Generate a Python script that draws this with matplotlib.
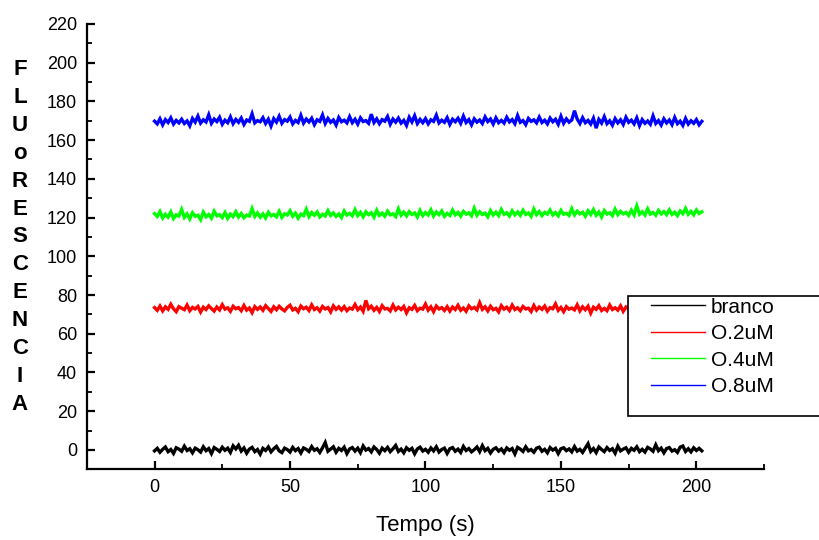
import numpy as np
import matplotlib
matplotlib.use("Agg")
import matplotlib.pyplot as plt
from matplotlib.patches import Rectangle
from matplotlib.ticker import MultipleLocator

plt.rcParams['font.family'] = ['Liberation Sans', 'DejaVu Sans']

labels = ["branco", "O.2uM", "O.4uM", "O.8uM"]
colors = ["#000000", "#FF0000", "#00FF00", "#0000FF"]

black = [
    -0.5, 0.8, -1.2, 0.3, 1.5, -0.9, 0.2, -1.8, 1.1, 0.4,
    -0.7, 1.9, -0.3, 0.6, -1.5, 0.9, 0.1, -1.1, 1.6, -0.4,
    0.7, -1.9, 1.2, 0.3, -0.8, 1.4, -0.2, 0.9, -1.3, 2.1,
    0.5, 2.4, -0.6, 1.0, -1.7, 0.4, 1.3, -0.9, 0.2, -2.2,
    0.8, -0.3, 1.5, -1.0, 0.6, 1.8, -0.5, -1.4, 0.9, 0.2,
    -1.1, 1.3, -0.4, 0.7, -1.6, 1.0, 0.3, -0.8, 1.7, -0.2,
    0.6, -1.3, 1.1, 3.8, -0.7, 0.4, 1.6, -1.2, 0.8, -0.3,
    1.4, -1.9, 0.5, 1.2, -0.6, 0.9, -1.4, 2.0, -0.1, 0.7,
    -1.0, 1.5, 0.2, -1.7, 0.9, -0.4, 1.3, -0.9, 0.6, 2.3,
    -0.8, 0.4, -1.5, 1.1, -0.2, 0.8, -2.0, 0.5, 1.4, -0.6,
    0.3, -1.2, 1.0, -0.5, 1.6, -1.1, 0.2, 0.9, -1.8, 0.6,
    1.2, -0.7, 0.4, -1.3, 1.8, -0.3, 0.7, -1.0, 0.1, 1.5,
    -0.9, 2.2, -0.4, 0.8, -1.6, 0.3, 1.1, -0.6, 0.5, -1.4,
    1.0, -0.2, 0.7, -2.1, 1.3, 0.4, -0.8, 1.6, -0.5, 0.2,
    -1.2, 0.9, 1.4, -0.7, 0.3, -1.5, 1.2, -0.1, 0.8, -1.9,
    0.6, 1.1, -0.4, 0.5, -1.0, 1.7, -0.6, 0.3, -1.3, 1.0,
    3.2, -0.8, 0.7, -1.4, 1.5, 0.2, -0.9, 1.2, -0.3, 0.6,
    -1.7, 1.9, -0.5, 0.4, 1.1, -1.2, 0.8, -0.2, 1.6, -0.9,
    0.3, -1.1, 1.3, 0.5, -0.7, 2.6, -0.4, 0.9, -1.5, 0.7,
    1.2, -0.6, 0.1, -1.3, 1.4, 2.0, -0.8, 0.6, -1.0, 1.1,
    -0.3, 0.8, -0.5]

red = [
    73.5, 72.1, 74.3, 71.8, 73.9, 72.6, 75.2, 72.9, 71.4, 74.0,
    73.2, 72.4, 74.8, 71.9, 73.6, 72.8, 74.1, 71.2, 73.7, 72.5,
    74.4, 73.0, 71.7, 73.8, 72.3, 75.0, 72.7, 73.4, 71.6, 74.2,
    72.9, 73.5, 71.9, 74.6, 72.2, 73.3, 70.9, 74.0, 72.6, 73.8,
    72.1, 74.5, 73.0, 71.5, 73.9, 72.4, 74.2, 72.8, 71.8, 73.6,
    74.7, 72.3, 73.1, 71.4, 74.3, 72.9, 73.7, 72.0, 74.9, 72.5,
    73.4, 71.7, 74.1, 72.8, 73.5, 71.3, 74.4, 72.6, 73.9, 72.2,
    74.0, 71.9, 73.3, 72.7, 75.1, 72.4, 73.8, 71.6, 77.2, 72.9,
    74.2, 72.1, 73.6, 71.5, 74.5, 72.8, 73.1, 71.8, 74.8, 72.3,
    73.7, 72.5, 74.1, 70.8, 73.4, 72.6, 74.6, 71.9, 73.2, 72.7,
    75.3, 72.2, 73.9, 71.4, 74.3, 72.8, 73.5, 72.0, 74.0, 71.7,
    73.8, 72.5, 74.7, 72.1, 73.3, 71.6, 74.4, 72.9, 73.6, 72.3,
    76.0, 72.6, 73.9, 71.8, 74.2, 72.4, 73.1, 71.3, 74.5, 72.7,
    73.7, 72.0, 74.8, 72.5, 73.4, 71.9, 74.1, 72.8, 73.2, 71.5,
    74.6, 72.2, 73.8, 72.6, 74.3, 71.7, 73.5, 72.9, 75.4, 72.1,
    73.6, 71.4, 74.0, 72.7, 73.3, 72.3, 74.9, 71.8, 73.9, 72.4,
    74.2, 70.7, 73.7, 72.6, 74.5, 72.0, 73.1, 71.9, 74.8, 72.5,
    73.4, 72.2, 74.4, 71.6, 73.8, 72.8, 74.1, 72.3, 73.5, 71.7,
    74.7, 72.4, 73.2, 72.9, 75.0, 71.9, 73.6, 72.1, 74.3, 72.6,
    73.9, 71.5, 74.0, 72.7, 73.3, 72.2, 74.6, 71.8, 73.7, 72.5,
    74.2, 72.0, 73.4]

green = [
    122.0, 120.6, 123.1, 119.8, 121.7, 120.2, 122.9, 119.5, 121.4, 120.8,
    124.2, 120.1, 121.9, 119.3, 122.5, 120.7, 121.2, 118.9, 122.8, 120.4,
    121.6, 119.7, 123.3, 120.9, 121.5, 120.0, 122.6, 119.6, 121.8, 120.5,
    123.0, 120.3, 122.1, 119.9, 121.3, 120.8, 124.6, 120.6, 122.4, 120.2,
    121.9, 119.8, 122.7, 120.9, 121.6, 120.4, 123.2, 120.1, 122.0, 121.3,
    123.5, 120.7, 122.3, 119.7, 121.8, 121.0, 124.3, 120.5, 122.6, 121.2,
    122.9, 120.3, 121.7, 120.8, 123.6, 121.1, 122.4, 120.6, 121.9, 120.0,
    123.4, 121.3, 122.2, 120.9, 124.1, 121.0, 122.7, 120.4, 123.0, 121.5,
    122.5, 120.2, 123.8, 121.1, 122.3, 120.7, 123.3, 121.4, 122.0, 120.5,
    124.5, 121.2, 122.8, 120.9, 123.1, 121.6, 122.4, 120.3, 123.7, 121.0,
    122.6, 121.3, 124.0, 120.8, 122.9, 121.5, 123.4, 120.6, 122.2, 121.1,
    123.9, 121.4, 122.7, 120.7, 123.2, 121.8, 122.5, 120.9, 124.8, 121.2,
    123.0, 121.6, 122.3, 120.4, 123.6, 121.3, 122.8, 121.0, 124.2, 121.7,
    122.5, 120.8, 123.5, 121.4, 122.9, 121.1, 123.8, 121.6, 122.4, 120.6,
    124.4, 121.5, 123.1, 121.0, 122.7, 121.8, 123.9, 121.3, 122.6, 120.9,
    123.7, 121.7, 122.2, 121.1, 124.6, 121.4, 123.3, 121.9, 122.8, 120.7,
    123.5, 121.6, 124.1, 121.2, 122.9, 120.3, 123.6, 121.8, 122.5, 121.0,
    124.3, 121.5, 123.2, 121.9, 122.7, 121.1, 123.8, 121.4, 126.0, 121.7,
    123.0, 121.3, 124.5, 121.8, 122.6, 121.2, 123.7, 121.9, 123.1, 121.5,
    124.0, 121.6, 122.8, 121.0, 123.4, 122.0, 124.7, 121.7, 123.2, 121.4,
    123.9, 122.1, 123.0]

blue = [
    169.8, 168.4, 171.0, 167.9, 170.6, 169.1, 171.5, 168.3, 170.2, 168.9,
    170.8, 168.6, 169.9, 167.4, 171.2, 169.3, 172.4, 168.8, 170.5, 169.4,
    173.1, 168.7, 170.9, 169.6, 171.8, 168.2, 170.3, 169.0, 172.0, 168.5,
    170.7, 169.2, 171.4, 168.1, 170.4, 169.7, 173.6, 168.9, 170.1, 169.5,
    171.6, 168.6, 170.8, 167.3, 171.1, 169.3, 172.3, 168.7, 170.6, 169.8,
    171.9, 168.4, 170.2, 169.1, 172.8, 168.8, 170.9, 169.4, 171.3, 168.0,
    170.5, 169.7, 173.0, 168.6, 171.2, 169.2, 170.4, 167.8, 171.7, 169.5,
    170.3, 168.9, 172.1, 169.0, 170.8, 168.3, 171.5, 169.6, 170.1, 168.7,
    173.4, 169.1, 171.0, 168.5, 170.6, 169.8, 172.2, 168.2, 170.9, 169.3,
    171.4, 168.8, 170.2, 167.6, 171.8, 169.4, 172.6, 168.6, 170.7, 169.0,
    171.1, 168.4, 170.5, 169.7, 172.9, 168.9, 170.3, 169.2, 171.6, 168.1,
    170.8, 169.5, 171.3, 168.7, 172.4, 169.1, 170.6, 167.9, 171.0, 169.3,
    170.4, 168.6, 172.0, 169.6, 170.9, 168.3, 171.5, 169.0, 170.2, 168.8,
    171.8, 169.4, 170.6, 168.5, 172.7, 169.2, 170.1, 168.0, 171.2, 169.7,
    170.5, 168.9, 171.9, 169.1, 170.3, 168.4, 171.4, 169.5, 170.8, 168.2,
    172.3, 168.7, 171.0, 169.3, 170.4, 175.2, 170.9, 168.6, 171.6, 169.0,
    170.2, 168.3, 171.3, 166.2, 170.7, 168.8, 172.1, 168.5, 170.0, 167.7,
    171.1, 168.9, 170.5, 168.1, 171.8, 169.2, 170.3, 168.4, 171.5, 167.5,
    170.6, 168.7, 169.9, 168.2, 172.5, 168.6, 170.1, 167.8, 171.0, 168.9,
    170.4, 168.0, 171.7, 168.5, 169.8, 167.6, 171.2, 168.3, 170.0, 168.7,
    170.6, 167.9, 169.7]

series = [black, red, green, blue]

fig = plt.figure(figsize=(8.19, 5.40), dpi=100)
ax = fig.add_axes([0.106, 0.131, 0.827, 0.8246])

for vals, lab, col in zip(series, labels, colors):
    t = np.arange(len(vals))
    ax.plot(t, vals, color=col, lw=2.4, label=lab, solid_joinstyle='miter')

ax.set_xlim(-25, 225)
ax.set_ylim(-10, 220)
ax.xaxis.set_minor_locator(MultipleLocator(25))
ax.yaxis.set_minor_locator(MultipleLocator(10))
ax.set_xticks([0, 50, 100, 150, 200])
ax.set_yticks(list(range(0, 221, 20)))

for s in ['top', 'right']:
    ax.spines[s].set_visible(False)
for s in ['left', 'bottom']:
    ax.spines[s].set_linewidth(1.6)

ax.tick_params(which='major', direction='in', length=6, width=1.6,
               labelsize=13, pad=7)
ax.tick_params(which='minor', direction='in', length=3.5, width=1.3)

ax.set_xlabel("Tempo (s)", fontsize=16, labelpad=14)

fig.text(20 / 819, 1 - 237 / 540, "F\nL\nU\no\nR\nE\nS\nC\nE\nN\nC\nI\nA",
         fontsize=16, fontweight='bold', ha='center', va='center',
         linespacing=1.43)

# legend frame (white, covering the lines) extending past the right edge
fig.patches.append(Rectangle((628 / 819, 1 - 416 / 540), 0.3, 120 / 540,
                             transform=fig.transFigure, facecolor='white',
                             edgecolor='black', lw=1.2, clip_on=False,
                             zorder=3))
leg = fig.legend(loc='upper left', bbox_to_anchor=(636 / 819, 1 - 283 / 540),
                 frameon=False, fontsize=15, handlelength=2.6,
                 handletextpad=0.3, labelspacing=0.36, borderpad=0.2)
leg.set_zorder(5)
for h in leg.get_lines():
    h.set_linewidth(1.0)

fig.savefig("out.png", dpi=100)
